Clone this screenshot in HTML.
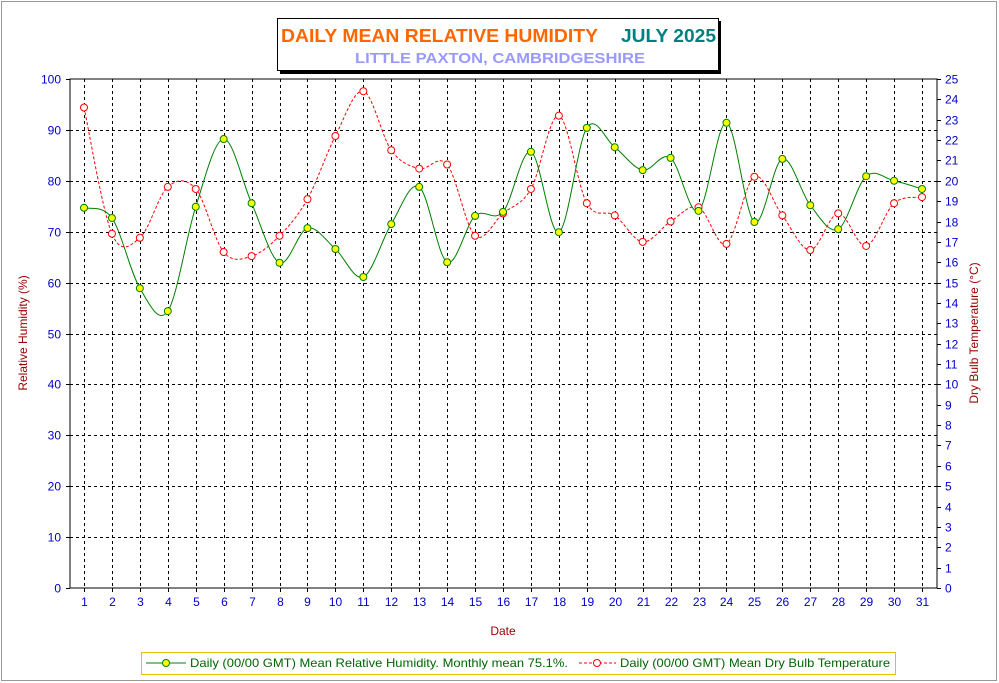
<!DOCTYPE html>
<html><head><meta charset="utf-8"><style>
body{margin:0;background:#fff;}
svg{display:block;font-family:"Liberation Sans",Arial,sans-serif;}
</style></head><body>
<svg id="chart" width="999" height="683">
<rect x="1.5" y="1.5" width="995" height="679" fill="#fff" stroke="#999"/>
<rect x="280" y="21" width="441" height="53" fill="#000"/>
<rect x="277.5" y="18.5" width="441" height="52" fill="#fff" stroke="#000"/>
<text x="281" y="42" font-size="18" font-weight="bold" fill="#ff6600" textLength="317" lengthAdjust="spacingAndGlyphs">DAILY MEAN RELATIVE HUMIDITY</text>
<text x="621" y="42" font-size="18" font-weight="bold" fill="#008080" textLength="95" lengthAdjust="spacingAndGlyphs">JULY 2025</text>
<text x="355" y="63" font-size="15" font-weight="bold" fill="#9999ff" textLength="290" lengthAdjust="spacingAndGlyphs">LITTLE PAXTON, CAMBRIDGESHIRE</text>
<g id="grid"></g>
<g id="axes"></g>
<g id="series"></g>
<text x="503" y="635" font-size="12" fill="#990000" text-anchor="middle">Date</text>
<text transform="translate(27,333) rotate(-90)" font-size="12" fill="#990000" text-anchor="middle">Relative Humidity (%)</text>
<text transform="translate(978,333) rotate(-90)" font-size="12" fill="#990000" text-anchor="middle">Dry Bulb Temperature (°C)</text>
<g>
<rect x="141.5" y="652.5" width="754" height="22" fill="#fff" stroke="#e8c000"/>
<line x1="146" y1="663" x2="186" y2="663" stroke="#008000"/>
<circle cx="166" cy="663" r="3.5" fill="#ffff00" stroke="#008000"/>
<text x="190" y="667" font-size="12" fill="#006600" textLength="378" lengthAdjust="spacingAndGlyphs">Daily (00/00 GMT) Mean Relative Humidity. Monthly mean 75.1%.</text>
<line x1="579" y1="663" x2="616" y2="663" stroke="#ff0000" stroke-dasharray="3,2"/>
<circle cx="597" cy="663" r="3.5" fill="#fff" stroke="#ff0000"/>
<text x="620" y="667" font-size="12" fill="#006600" textLength="270" lengthAdjust="spacingAndGlyphs">Daily (00/00 GMT) Mean Dry Bulb Temperature</text>
</g>
</svg>
<script>
const days=[1,2,3,4,5,6,7,8,9,10,11,12,13,14,15,16,17,18,19,20,21,22,23,24,25,26,27,28,29,30,31];
const humidity=[74.7,72.7,58.9,54.4,74.9,88.2,75.6,63.9,70.7,66.6,61.1,71.5,78.8,64.0,73.1,73.9,85.7,69.9,90.4,86.6,82.1,84.5,74.1,91.4,71.9,84.3,75.2,70.5,80.9,80.0,78.4];
const temperature=[23.6,17.4,17.2,19.7,19.6,16.5,16.3,17.3,19.1,22.2,24.4,21.5,20.6,20.8,17.3,18.4,19.6,23.2,18.9,18.3,17.0,18.0,18.7,16.9,20.2,18.3,16.6,18.4,16.8,18.9,19.2];
const yTicks=[0,10,20,30,40,50,60,70,80,90,100];
const y2Ticks=[0,1,2,3,4,5,6,7,8,9,10,11,12,13,14,15,16,17,18,19,20,21,22,23,24,25];
const L=70,R=937,T=79,B=588;
const x=d=>84+(d-1)*(922-84)/30;
const y=v=>B-(v/100)*(B-T);
const y2=v=>B-(v/25)*(B-T);
const NS="http://www.w3.org/2000/svg";
function mk(tag,attrs,parent){const e=document.createElementNS(NS,tag);for(const k in attrs)e.setAttribute(k,attrs[k]);parent.appendChild(e);return e;}
const grid=document.getElementById('grid'),axes=document.getElementById('axes'),series=document.getElementById('series');
mk('rect',{x:L,y:T,width:R-L,height:B-T,fill:'none',stroke:'#000'},grid);
yTicks.forEach(v=>{const yy=Math.round(y(v))+0.5;
 if(v>0&&v<100){const l=mk('line',{x1:L,y1:yy,x2:R,y2:yy,stroke:'#000','stroke-dasharray':'3,3'},grid);}
 mk('line',{x1:L-4,y1:yy,x2:L,y2:yy,stroke:'#000'},axes);
 const t=mk('text',{x:L-9,y:yy+4,'font-size':12,fill:'#0000cc','text-anchor':'end'},axes);t.textContent=v;
 });
y2Ticks.forEach(v=>{const yy=Math.round(y2(v))+0.5;
 mk('line',{x1:R,y1:yy,x2:R+4,y2:yy,stroke:'#000'},axes);
 const t=mk('text',{x:R+8,y:yy+4,'font-size':12,fill:'#0000cc'},axes);t.textContent=v;
 });
days.forEach(d=>{const xx=Math.round(x(d))+0.5;
 const l=mk('line',{x1:xx,y1:T,x2:xx,y2:B,stroke:'#000','stroke-dasharray':'3,3'},grid);
 mk('line',{x1:xx,y1:B,x2:xx,y2:B+4,stroke:'#000'},axes);
 const t=mk('text',{x:xx,y:B+18,'font-size':12,fill:'#0000cc','text-anchor':'middle'},axes);t.textContent=d;
 });
function smooth(pts){let d=`M${pts[0][0]},${pts[0][1]}`;
 for(let i=0;i<pts.length-1;i++){const p0=pts[i-1]||pts[i],p1=pts[i],p2=pts[i+1],p3=pts[i+2]||p2;
  d+=` C${p1[0]+(p2[0]-p0[0])/6},${p1[1]+(p2[1]-p0[1])/6} ${p2[0]-(p3[0]-p1[0])/6},${p2[1]-(p3[1]-p1[1])/6} ${p2[0]},${p2[1]}`;}
 return d;}
const tp=days.map((d,i)=>[x(d),y2(temperature[i])]);
const tl=mk('path',{d:smooth(tp),fill:'none',stroke:'#ff0000','stroke-dasharray':'3,2'},series);

const hp=days.map((d,i)=>[x(d),y(humidity[i])]);
const hl=mk('path',{d:smooth(hp),fill:'none',stroke:'#008000'},series);

tp.forEach(p=>{const c=mk('circle',{cx:p[0],cy:p[1],r:3.5,fill:'#fff',stroke:'#ff0000'},series);
 });
hp.forEach(p=>{const c=mk('circle',{cx:p[0],cy:p[1],r:3.5,fill:'#ffff00',stroke:'#008000'},series);
 });
</script>
</body></html>
